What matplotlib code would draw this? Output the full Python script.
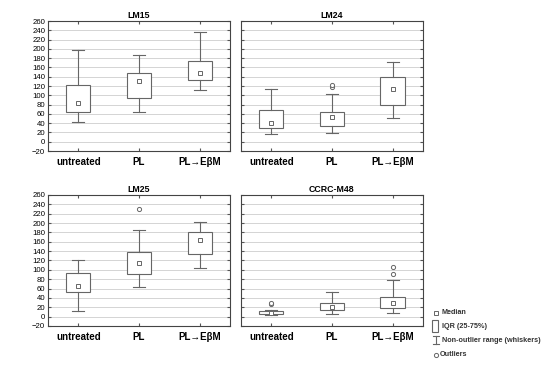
import matplotlib
matplotlib.use('Agg')
import matplotlib.pyplot as plt
from matplotlib.lines import Line2D
from matplotlib.patches import Rectangle

plt.rcParams['font.family'] = ['Liberation Sans', 'DejaVu Sans']

# 数据
titles = ['LM15', 'LM24', 'LM25', 'CCRC-M48']
groups = ['untreated', 'PL', 'PL\u2192E\u03b2M']

medians = [[84, 130, 149], [40, 53, 113], [65, 115, 164], [8, 21, 30]]
q1 = [[63, 95, 134], [30, 33, 79], [52, 92, 133], [6, 14, 18]]
q3 = [[123, 148, 174], [68, 65, 140], [94, 139, 181], [12, 30, 43]]
whislo = [[43, 65, 112], [17, 18, 52], [12, 63, 103], [4, 6, 7]]
whishi = [[198, 187, 237], [113, 102, 172], [120, 186, 203], [14, 53, 79]]
fliers = [[[], [], []],
          [[], [118, 122], []],
          [[], [231], []],
          [[27, 30], [], [91, 106]]]

yticks = list(range(-20, 261, 20))

fig = plt.figure(figsize=(5.5, 3.66), dpi=100)
pos = [[0.0873, 0.5874, 0.331, 0.355], [0.438, 0.5874, 0.331, 0.355],
       [0.0873, 0.1093, 0.331, 0.358], [0.438, 0.1093, 0.331, 0.358]]

edge = '#666666'
for k in range(4):
    ax = fig.add_axes(pos[k])
    stats = []
    for i in range(3):
        stats.append(dict(med=medians[k][i], q1=q1[k][i], q3=q3[k][i],
                          whislo=whislo[k][i], whishi=whishi[k][i],
                          fliers=fliers[k][i], label=groups[i]))
    ax.bxp(stats, positions=[0, 1, 2], widths=0.4, patch_artist=True,
           boxprops=dict(facecolor='white', edgecolor=edge, linewidth=0.8),
           whiskerprops=dict(color=edge, linewidth=0.8),
           capprops=dict(color=edge, linewidth=0.8),
           capwidths=0.2,
           medianprops=dict(linestyle='none'),
           flierprops=dict(marker='o', markersize=3, markerfacecolor='white',
                           markeredgecolor=edge, markeredgewidth=0.7),
           zorder=3)
    ax.plot([0, 1, 2], medians[k], 's', ms=3.2, mfc='white', mec=edge,
            mew=0.7, zorder=4)
    ax.set_xlim(-0.5, 2.5)
    ax.set_ylim(-20, 260)
    ax.set_yticks(yticks)
    ax.grid(axis='y', color='#d4d4d4', linewidth=0.7, zorder=0)
    ax.set_axisbelow(True)
    ax.set_xticks([0, 1, 2])
    ax.set_xticklabels(groups, fontsize=7, fontweight='bold')
    ax.tick_params(axis='x', top=True, direction='in', length=2,
                   color='#555555', pad=4)
    ax.tick_params(axis='y', right=True, direction='in', length=2,
                   color='#555555', labelsize=5.6, pad=2)
    if k % 2 == 1:
        ax.tick_params(axis='y', labelleft=False)
    for s in ax.spines.values():
        s.set_color('#444444')
        s.set_linewidth(0.8)
    ax.set_title(titles[k], fontsize=6.3, fontweight='bold', pad=2)

# 图例
lx, tx = 436 / 550, 442 / 550
fs = 5.2
fig.lines.append(Line2D([lx], [1 - 313 / 366], marker='s', ms=3.2,
                        mfc='white', mec=edge, mew=0.7,
                        transform=fig.transFigure))
fig.text(tx, 1 - 313 / 366, 'Median', fontsize=fs, fontweight='bold',
         va='center', color='#333333')
fig.patches.append(Rectangle((432 / 550, 1 - 332 / 366), 5.5 / 550, 12 / 366,
                             facecolor='white', edgecolor=edge, lw=0.8,
                             transform=fig.transFigure))
fig.text(tx, 1 - 326 / 366, 'IQR (25-75%)', fontsize=fs, fontweight='bold',
         va='center', color='#333333')
yb, yt = 1 - 344 / 366, 1 - 336 / 366
fig.lines.append(Line2D([lx, lx], [yb, yt], color=edge, lw=0.8,
                        transform=fig.transFigure))
fig.lines.append(Line2D([lx - 3 / 550, lx + 3 / 550], [yb, yb], color=edge,
                        lw=0.8, transform=fig.transFigure))
fig.lines.append(Line2D([lx - 3 / 550, lx + 3 / 550], [yt, yt], color=edge,
                        lw=0.8, transform=fig.transFigure))
fig.text(tx, 1 - 340 / 366, 'Non-outlier range (whiskers)', fontsize=fs,
         fontweight='bold', va='center', color='#333333')
fig.lines.append(Line2D([lx], [1 - 355 / 366], marker='o', ms=3,
                        mfc='white', mec=edge, mew=0.7,
                        transform=fig.transFigure))
fig.text(440 / 550, 1 - 355 / 366, 'Outliers', fontsize=fs, fontweight='bold',
         va='center', color='#333333')

fig.savefig('out.png', dpi=100)
